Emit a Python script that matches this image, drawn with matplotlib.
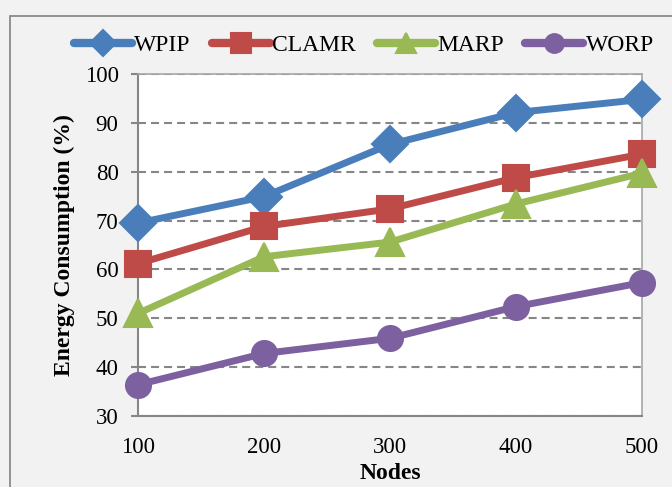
import matplotlib
matplotlib.use("Agg")
import matplotlib.pyplot as plt
from matplotlib.patches import Rectangle

nodes = [100, 200, 300, 400, 500]
wpip = [69.5, 74.9, 85.6, 92.1, 94.8]
clamr = [61.2, 68.8, 72.4, 78.8, 83.6]
marp = [51.0, 62.6, 65.6, 73.4, 79.7]
worp = [36.4, 42.8, 45.9, 52.4, 57.3]
yticks = [30, 40, 50, 60, 70, 80, 90, 100]

plt.rcParams['font.family'] = ['Liberation Serif', 'DejaVu Serif']

fig = plt.figure(figsize=(6.72, 4.87), dpi=100, facecolor='#f2f2f2')
W, H = 672, 487
fig.patches.append(Rectangle((9.5 / W, -0.05), 1.2, 1.05 - 16 / H, transform=fig.transFigure,
                             fill=False, edgecolor='#8a8a8a', linewidth=1.3, zorder=0))

ax = fig.add_axes([138 / W, 1 - 416 / H, (642 - 138) / W, (416 - 74) / H])
ax.set_facecolor('white')

series = [
    ('WPIP', wpip, '#4a7ebb', 'D', 18),
    ('CLAMR', clamr, '#be4b48', 's', 19),
    ('MARP', marp, '#98b954', '^', 20),
    ('WORP', worp, '#7d60a0', 'o', 18),
]
for name, vals, c, m, ms in series:
    ax.plot(nodes, vals, color=c, linewidth=5, marker=m, markersize=ms,
            markerfacecolor=c, markeredgecolor=c, markeredgewidth=1.5,
            label=name, clip_on=False, zorder=3,
            solid_joinstyle='round', solid_capstyle='round')

ax.set_xlim(100, 500)
ax.set_ylim(30, 100)
ax.set_xticks(nodes)
ax.set_yticks(yticks)
ax.yaxis.grid(True, linestyle=(0, (3.85, 2.4)), color='#868686', linewidth=1.5)
ax.set_axisbelow(True)
for s in ['top', 'right']:
    ax.spines[s].set_color('#a6a6a6')
    ax.spines[s].set_linewidth(1.2)
for s in ['left', 'bottom']:
    ax.spines[s].set_color('#868686')
    ax.spines[s].set_linewidth(1.5)
ax.tick_params(axis='y', direction='out', length=5, width=1.5, color='#868686',
               labelsize=16.5, pad=9)
ax.tick_params(axis='x', direction='out', length=0, labelsize=16.5, pad=15)

ax.set_xlabel('Nodes', fontsize=17, fontweight='bold', labelpad=4)
ax.set_ylabel('Energy Consumption (%)', fontsize=17, fontweight='bold', labelpad=7)

leg = fig.legend(loc='center', bbox_to_anchor=(364 / W, 1 - 45 / H), ncol=4, frameon=False,
                 fontsize=17, handlelength=2.45, handletextpad=0.1, columnspacing=0.9,
                 markerscale=0.75, borderpad=0)
for h in leg.get_lines():
    h.set_linewidth(6)

fig.savefig('out.png', dpi=100, facecolor=fig.get_facecolor())
